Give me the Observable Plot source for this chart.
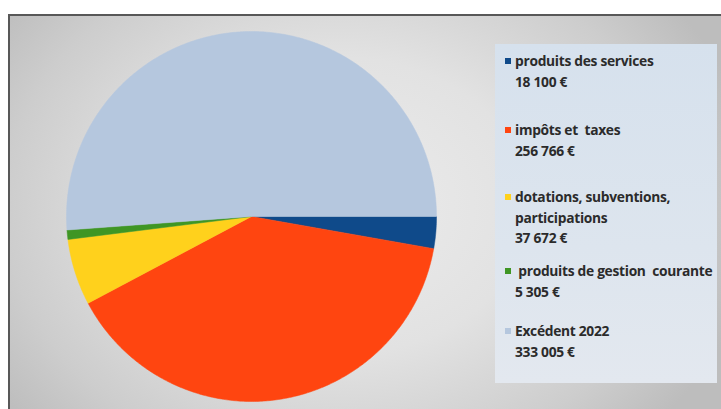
<!DOCTYPE html>
<html>
<head>
<meta charset="utf-8">
<script src="https://cdn.jsdelivr.net/npm/d3@7"></script>
<script src="https://cdn.jsdelivr.net/npm/@observablehq/plot@0.6"></script>
<style>
  html, body { margin: 0; padding: 0; background: #fff; }
  #wrap { position: relative; width: 721px; height: 409px; overflow: hidden; }
  #frame {
    position: absolute; left: 8px; top: 14px; width: 760px; height: 440px;
    border-top: 2px solid #585858; border-left: 2px solid #585858;
    background: radial-gradient(ellipse 420px 330px at 330px 190px, #ececec 0%, #e2e2e2 45%, #cdcdcd 80%, #bdbdbd 100%);
  }
  #chart { position: absolute; left: 0; top: 0; }
  #legend {
    position: absolute; left: 495px; top: 44px; width: 222px; height: 339px;
    background: linear-gradient(180deg, #d6e1ed 0%, #dde5ee 60%, #e3e8ef 100%);
    font-family: "Open Sans", sans-serif; font-weight: 700; font-size: 13.8px;
    color: #2b2b2b; letter-spacing: -0.3px;
  }
  .item { position: absolute; left: 10px; white-space: pre; line-height: 20.5px; }
  .item .sw { position: absolute; left: 0; top: 7px; width: 6px; height: 6px; }
  .item .txt { margin-left: 10px; display: block; }
</style>
</head>
<body>
<div id="wrap">
  <div id="frame"></div>
  <div id="chart"></div>
  <div id="legend"></div>
</div>
<script>
// Data
const categories = [
  "produits des services",
  "impôts et  taxes",
  "dotations, subventions,\nparticipations",
  " produits de gestion  courante",
  "Excédent 2022"
];
const values = [18100, 256766, 37672, 5305, 333005];
const valueLabels = ["18 100 €", "256 766 €", "37 672 €", "5 305 €", "333 005 €"];
const colors = ["#0f4a8a", "#ff4510", "#ffd11c", "#3f9624", "#b5c7de"];
const legendTops = [7, 76, 143, 217, 277];

// Build pie geometry (unit circle) from values with d3.pie
const pie = d3.pie().sort(null).startAngle(Math.PI / 2).endAngle(Math.PI / 2 + 2 * Math.PI);
const arcs = pie(values);
const rows = [];
arcs.forEach((a, i) => {
  const name = categories[i];
  rows.push({name, x: 0, y: 0});
  const n = Math.max(2, Math.ceil((a.endAngle - a.startAngle) / 0.01));
  for (let k = 0; k <= n; k++) {
    const t = a.startAngle + (a.endAngle - a.startAngle) * k / n;
    rows.push({name, x: Math.sin(t), y: Math.cos(t)});
  }
  rows.push({name, x: 0, y: 0});
});

const W = 721, H = 409, cx = 251, cy = 216, R = 185;
const chart = Plot.plot({
  width: W, height: H, margin: 0,
  style: {background: "transparent"},
  x: {domain: [-cx / R, (W - cx) / R], axis: null},
  y: {domain: [-(H - cy) / R, cy / R], axis: null},
  color: {domain: categories, range: colors},
  marks: [
    Plot.line(rows, {x: "x", y: "y", z: "name", fill: "name", stroke: "name", strokeWidth: 0.5, curve: "linear"})
  ]
});
document.getElementById("chart").appendChild(chart);

// Legend
const lg = document.getElementById("legend");
categories.forEach((c, i) => {
  const d = document.createElement("div");
  d.className = "item";
  d.style.top = legendTops[i] + "px";
  const sw = document.createElement("span");
  sw.className = "sw";
  sw.style.background = colors[i];
  const t = document.createElement("span");
  t.className = "txt";
  t.textContent = c + "\n" + valueLabels[i];
  d.appendChild(sw); d.appendChild(t);
  lg.appendChild(d);
});
</script>
</body>
</html>
